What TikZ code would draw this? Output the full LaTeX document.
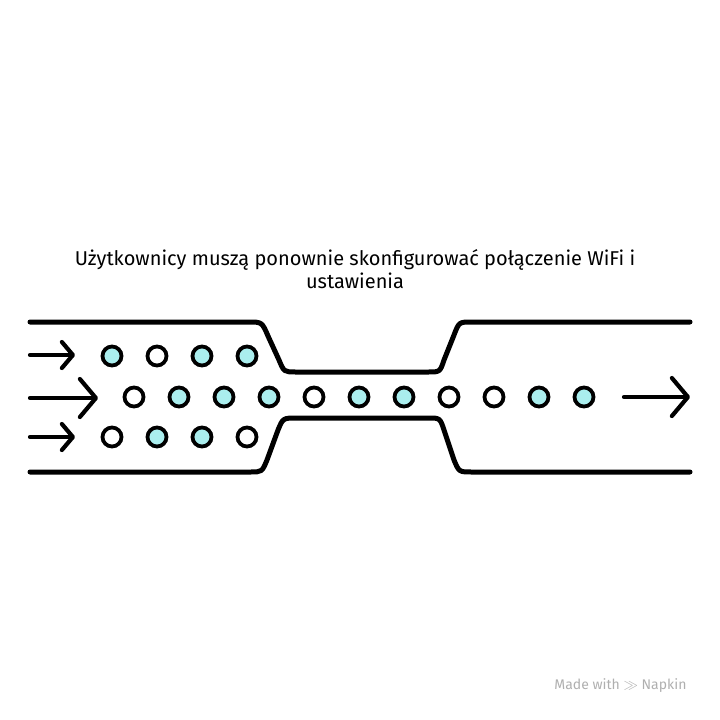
\documentclass[tikz,border=0pt]{standalone}
\usepackage{fontspec}
\setmainfont{Fira Sans}
\usetikzlibrary{arrows.meta}
\definecolor{dotcyan}{RGB}{170,238,238}
\definecolor{markgray}{RGB}{175,175,175}
\begin{document}
\begin{tikzpicture}[x=1pt,y=-1pt,
  wall/.style={line width=5pt,line cap=round,line join=round},
  flow/.style={line width=4.2pt,line cap=round,-{Straight Barb[length=11pt,width=26pt,line width=4.2pt,line cap=round,line join=round]}},
  bigflow/.style={line width=4.2pt,line cap=round,-{Straight Barb[length=16pt,width=38pt,line width=4.2pt,line cap=round,line join=round]}},
  dot/.style={circle,draw,line width=3.8pt,minimum size=19pt,inner sep=0pt,fill=white},
  cdot/.style={dot,fill=dotcyan}]
\useasboundingbox (0,0) rectangle (720,720);
% title
\node[align=center,font=\fontsize{20}{23.5}\selectfont] (title) at (355,269)
  {Użytkownicy muszą ponownie skonfigurować połączenie WiFi i\\ustawienia};
% walls
\draw[wall] (30,322) -- (248,322) .. controls (262,322) .. (268,336) -- (279,360)
  .. controls (284,372) .. (296,372) -- (428,372) .. controls (440,372) .. (444,360)
  -- (454,335) .. controls (459,322) .. (472,322) -- (690,322);
\draw[wall] (30,472) -- (250,472) .. controls (262,472) .. (267,460) -- (278,430)
  .. controls (283,418) .. (297,418) -- (428,418) .. controls (440,418) .. (444,430)
  -- (454,460) .. controls (459,472) .. (472,472) -- (690,472);
% arrows
\coordinate (a1s) at (30,355); \coordinate (a1e) at (75,355);
\coordinate (a2s) at (30,398); \coordinate (a2e) at (98,398);
\coordinate (a3s) at (30,437); \coordinate (a3e) at (75,437);
\coordinate (a4s) at (624,397); \coordinate (a4e) at (690,397);
\draw[flow] (a1s) -- (a1e);
\draw[bigflow] (a2s) -- (a2e);
\draw[flow] (a3s) -- (a3e);
\draw[bigflow] (a4s) -- (a4e);
% top row
\node[cdot] (t1) at (112,356) {};
\node[dot]  (t2) at (157,356) {};
\node[cdot] (t3) at (202,356) {};
\node[cdot] (t4) at (247,356) {};
% middle row
\node[dot]  (m1) at (134,397) {};
\node[cdot] (m2) at (179,397) {};
\node[cdot] (m3) at (224,397) {};
\node[cdot] (m4) at (269,397) {};
\node[dot]  (m5) at (314,397) {};
\node[cdot] (m6) at (359,397) {};
\node[cdot] (m7) at (404,397) {};
\node[dot]  (m8) at (449,397) {};
\node[dot]  (m9) at (494,397) {};
\node[cdot] (m10) at (539,397) {};
\node[cdot] (m11) at (584,397) {};
% bottom row
\node[dot]  (b1) at (112,437) {};
\node[cdot] (b2) at (157,437) {};
\node[cdot] (b3) at (202,437) {};
\node[dot]  (b4) at (247,437) {};
% watermark
\node[anchor=east,text=markgray,font=\fontsize{14}{16}\selectfont] (mark) at (690,686) {Made with \(\gg\) Napkin};
\end{tikzpicture}
\end{document}
